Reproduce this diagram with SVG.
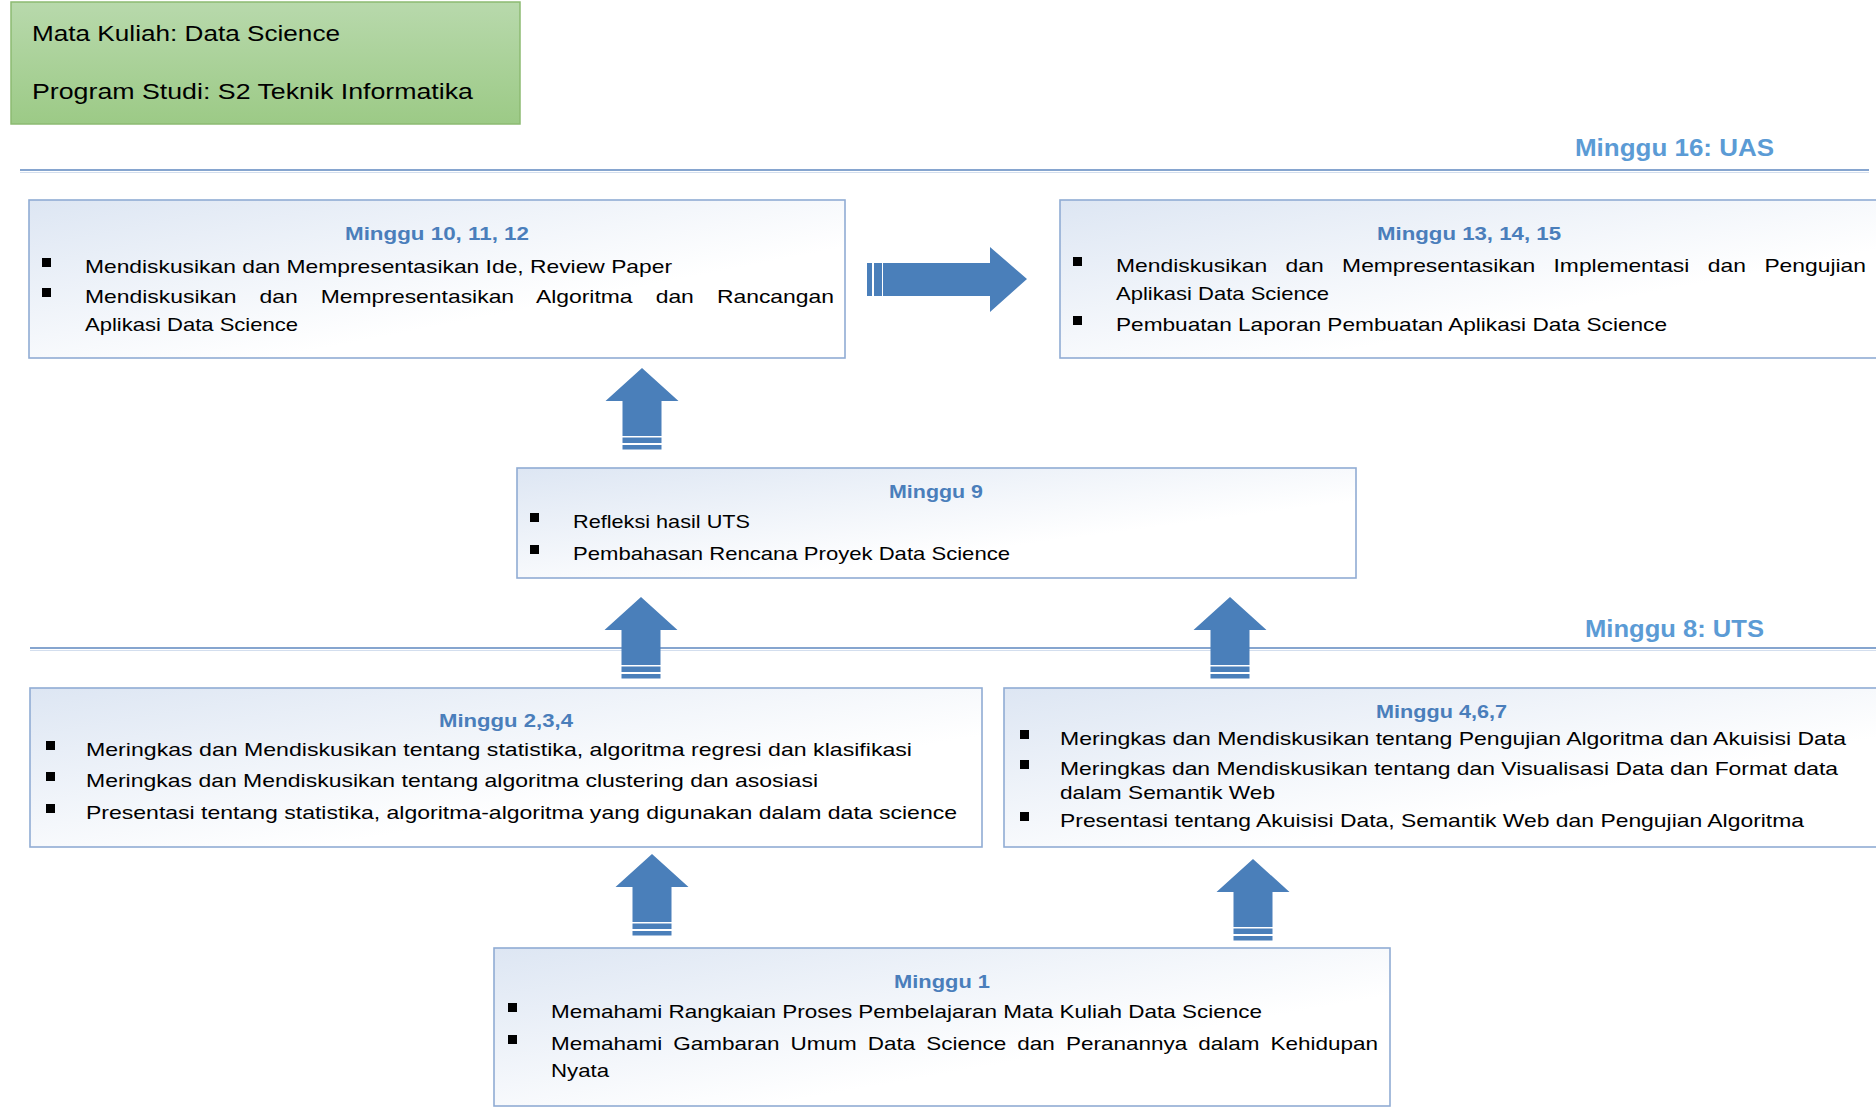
<svg xmlns="http://www.w3.org/2000/svg" width="1876" height="1113" viewBox="0 0 1876 1113">
<style>
.bg{fill:#FFFFFF}
.box{fill:url(#boxgrad);stroke:#90ACD4;stroke-width:1.6}
.hdr{fill:url(#greengrad);stroke:#8CBA72;stroke-width:1.5}
.rule{stroke:#86A5CF;stroke-width:2;fill:none}
.rule2{stroke:#D3DEEE;stroke-width:1;fill:none}
.arrow{fill:#4A7FBA}
.bul{fill:#000000}
.head{font-family:"Liberation Sans",Arial,sans-serif;font-size:22px;fill:#000000}
.title{font-family:"Liberation Sans",Arial,sans-serif;font-weight:bold;font-size:17.5px;fill:#4A7EBB}
.mile{font-family:"Liberation Sans",Arial,sans-serif;font-weight:bold;font-size:23px;fill:#5B9BD5}
.body{font-family:"Liberation Sans",Arial,sans-serif;font-size:18.5px;fill:#000000}
</style>
<defs>
<linearGradient id="boxgrad" x1="0" y1="0" x2="1" y2="1">
<stop offset="0" stop-color="#DDE6F3"/>
<stop offset="0.65" stop-color="#FFFFFF"/>
<stop offset="1" stop-color="#FFFFFF"/>
</linearGradient>
<linearGradient id="greengrad" x1="0" y1="0" x2="0" y2="1">
<stop offset="0" stop-color="#B8D9AC"/>
<stop offset="1" stop-color="#9CCA86"/>
</linearGradient>
<g id="uparrow">
<polygon class="arrow" points="0,0 36.5,33 19.5,33 19.5,68 -19.5,68 -19.5,33 -36.5,33"/>
<rect class="arrow" x="-19.5" y="69.5" width="39" height="5.5"/>
<rect class="arrow" x="-19.5" y="77" width="39" height="4.5"/>
</g>
</defs>
<rect class="bg" x="0" y="0" width="1876" height="1113"/>

<g id="header">
<rect class="hdr" x="11" y="2" width="509" height="122"/>
<text class="head" x="32" y="40.5" textLength="308" lengthAdjust="spacingAndGlyphs">Mata Kuliah: Data Science</text>
<text class="head" x="32" y="99" textLength="441" lengthAdjust="spacingAndGlyphs">Program Studi: S2 Teknik Informatika</text>
</g>

<g id="milestone-uas">
<line class="rule" x1="20" y1="170" x2="1869" y2="170"/>
<line class="rule2" x1="20" y1="172.5" x2="1869" y2="172.5"/>
<text class="mile" x="1575" y="156" textLength="199" lengthAdjust="spacingAndGlyphs">Minggu 16: UAS</text>
</g>

<g id="milestone-uts">
<line class="rule" x1="30" y1="648" x2="1876" y2="648"/>
<line class="rule2" x1="30" y1="650.5" x2="1876" y2="650.5"/>
<text class="mile" x="1585" y="637" textLength="179" lengthAdjust="spacingAndGlyphs">Minggu 8: UTS</text>
</g>

<g id="connectors">
<g id="arrow-a-b">
<polygon class="arrow" points="1027,279 990,247 990,263 883,263 883,296 990,296 990,312"/>
<rect class="arrow" x="874" y="263" width="8" height="33"/>
<rect class="arrow" x="867" y="263" width="5" height="33"/>
</g>
<use href="#uparrow" x="642" y="368"/>
<use href="#uparrow" x="641" y="597"/>
<use href="#uparrow" x="1230" y="597"/>
<use href="#uparrow" x="652" y="854"/>
<use href="#uparrow" x="1253" y="859"/>
</g>

<g id="node-minggu-10-12">
<rect class="box" x="29" y="200" width="816" height="158"/>
<text class="title" x="345" y="240" textLength="184" lengthAdjust="spacingAndGlyphs">Minggu 10, 11, 12</text>
<rect class="bul" x="42" y="258" width="9" height="9"/>
<text class="body" x="85" y="273" textLength="587" lengthAdjust="spacingAndGlyphs">Mendiskusikan dan Mempresentasikan Ide, Review Paper</text>
<rect class="bul" x="42" y="288" width="9" height="9"/>
<text class="body" x="85" y="303" word-spacing="13.5" textLength="749" lengthAdjust="spacingAndGlyphs">Mendiskusikan dan Mempresentasikan Algoritma dan Rancangan</text>
<text class="body" x="85" y="331" textLength="213" lengthAdjust="spacingAndGlyphs">Aplikasi Data Science</text>
</g>

<g id="node-minggu-13-15">
<rect class="box" x="1060" y="200" width="830" height="158"/>
<text class="title" x="1377" y="240" textLength="184" lengthAdjust="spacingAndGlyphs">Minggu 13, 14, 15</text>
<rect class="bul" x="1073" y="257" width="9" height="9"/>
<text class="body" x="1116" y="272" word-spacing="9.8" textLength="750" lengthAdjust="spacingAndGlyphs">Mendiskusikan dan Mempresentasikan Implementasi dan Pengujian</text>
<text class="body" x="1116" y="300" textLength="213" lengthAdjust="spacingAndGlyphs">Aplikasi Data Science</text>
<rect class="bul" x="1073" y="316" width="9" height="9"/>
<text class="body" x="1116" y="331" textLength="551" lengthAdjust="spacingAndGlyphs">Pembuatan Laporan Pembuatan Aplikasi Data Science</text>
</g>

<g id="node-minggu-9">
<rect class="box" x="517" y="468" width="839" height="110"/>
<text class="title" x="889" y="498" textLength="94" lengthAdjust="spacingAndGlyphs">Minggu 9</text>
<rect class="bul" x="530" y="513" width="9" height="9"/>
<text class="body" x="573" y="528" textLength="177" lengthAdjust="spacingAndGlyphs">Refleksi hasil UTS</text>
<rect class="bul" x="530" y="545" width="9" height="9"/>
<text class="body" x="573" y="560" textLength="437" lengthAdjust="spacingAndGlyphs">Pembahasan Rencana Proyek Data Science</text>
</g>

<g id="node-minggu-2-4">
<rect class="box" x="30" y="688" width="952" height="159"/>
<text class="title" x="439" y="727" textLength="134" lengthAdjust="spacingAndGlyphs">Minggu 2,3,4</text>
<rect class="bul" x="46" y="741" width="9" height="9"/>
<text class="body" x="86" y="756" textLength="826" lengthAdjust="spacingAndGlyphs">Meringkas dan Mendiskusikan tentang statistika, algoritma regresi dan klasifikasi</text>
<rect class="bul" x="46" y="772" width="9" height="9"/>
<text class="body" x="86" y="787" textLength="732" lengthAdjust="spacingAndGlyphs">Meringkas dan Mendiskusikan tentang algoritma clustering dan asosiasi</text>
<rect class="bul" x="46" y="804" width="9" height="9"/>
<text class="body" x="86" y="819" textLength="871" lengthAdjust="spacingAndGlyphs">Presentasi tentang statistika, algoritma-algoritma yang digunakan dalam data science</text>
</g>

<g id="node-minggu-4-7">
<rect class="box" x="1004" y="688" width="886" height="159"/>
<text class="title" x="1376" y="718" textLength="131" lengthAdjust="spacingAndGlyphs">Minggu 4,6,7</text>
<rect class="bul" x="1020" y="730" width="9" height="9"/>
<text class="body" x="1060" y="745" textLength="786" lengthAdjust="spacingAndGlyphs">Meringkas dan Mendiskusikan tentang Pengujian Algoritma dan Akuisisi Data</text>
<rect class="bul" x="1020" y="760" width="9" height="9"/>
<text class="body" x="1060" y="775" textLength="778" lengthAdjust="spacingAndGlyphs">Meringkas dan Mendiskusikan tentang dan Visualisasi Data dan Format data</text>
<text class="body" x="1060" y="799" textLength="215" lengthAdjust="spacingAndGlyphs">dalam Semantik Web</text>
<rect class="bul" x="1020" y="812" width="9" height="9"/>
<text class="body" x="1060" y="827" textLength="744" lengthAdjust="spacingAndGlyphs">Presentasi tentang Akuisisi Data, Semantik Web dan Pengujian Algoritma</text>
</g>

<g id="node-minggu-1">
<rect class="box" x="494" y="948" width="896" height="158"/>
<text class="title" x="894" y="988" textLength="96" lengthAdjust="spacingAndGlyphs">Minggu 1</text>
<rect class="bul" x="508" y="1003" width="9" height="9"/>
<text class="body" x="551" y="1018" textLength="711" lengthAdjust="spacingAndGlyphs">Memahami Rangkaian Proses Pembelajaran Mata Kuliah Data Science</text>
<rect class="bul" x="508" y="1035" width="9" height="9"/>
<text class="body" x="551" y="1050" word-spacing="4" textLength="827" lengthAdjust="spacingAndGlyphs">Memahami Gambaran Umum Data Science dan Peranannya dalam Kehidupan</text>
<text class="body" x="551" y="1077" textLength="58" lengthAdjust="spacingAndGlyphs">Nyata</text>
</g>
</svg>
